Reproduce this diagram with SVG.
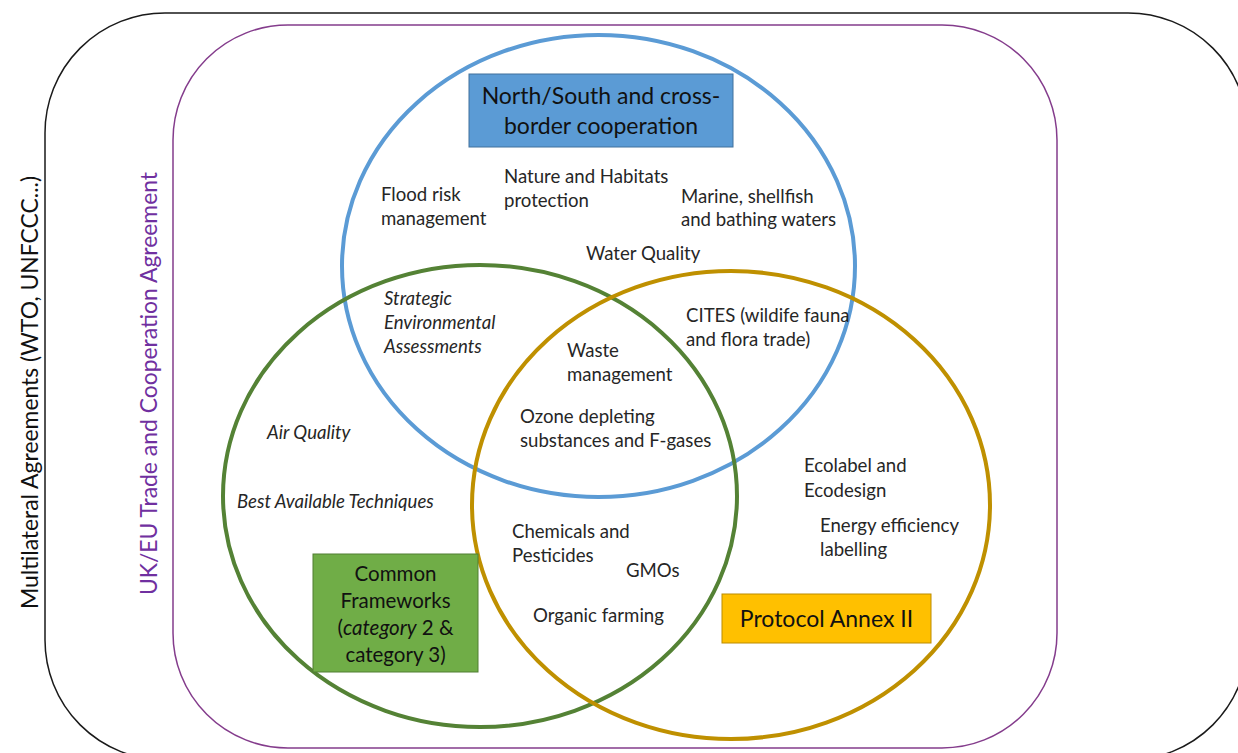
<svg xmlns="http://www.w3.org/2000/svg" width="1238" height="753" viewBox="0 0 1238 753">
<style>
.t{font-family:Lato,"Open Sans","Liberation Sans",sans-serif;font-size:18.6px;fill:#262626}
.i{font-style:italic}
.box{font-family:Lato,"Open Sans","Liberation Sans",sans-serif;font-size:23px;fill:#111}
.cf{font-size:20.5px}
.side{font-family:Lato,"Open Sans","Liberation Sans",sans-serif;font-size:22.9px}
.ring{fill:none;stroke-width:4}
</style>
<rect width="1238" height="753" fill="#fff"/>
<g id="multilateral">
<rect x="45" y="13" width="1203" height="747" rx="120" ry="120" fill="none" stroke="#1a1a1a" stroke-width="1.5"/>
<text class="side" transform="translate(38,392.5) rotate(-90)" text-anchor="middle" fill="#111">Multilateral Agreements (WTO, UNFCCC...)</text>
</g>
<g id="tca">
<rect x="173" y="25" width="884" height="723" rx="115" ry="115" fill="none" stroke="#843C8C" stroke-width="1.5"/>
<text class="side" transform="translate(157,383.5) rotate(-90)" text-anchor="middle" fill="#7030A0">UK/EU Trade and Cooperation Agreement</text>
</g>
<g id="circles">
<ellipse id="blue" class="ring" cx="598.5" cy="266" rx="256.5" ry="231" stroke="#5B9BD5"/>
<ellipse id="green" class="ring" cx="480" cy="496" rx="257" ry="231" stroke="#548235"/>
<ellipse id="gold" class="ring" cx="731" cy="505" rx="259" ry="234" stroke="#BF9000"/>
</g>
<g id="ns-box">
<rect x="469" y="74" width="264" height="73" fill="#5B9BD5" stroke="#41719C" stroke-width="1"/>
<text class="box" x="601" y="104" text-anchor="middle">North/South and cross-</text>
<text class="box" x="601" y="134" text-anchor="middle">border cooperation</text>
</g>
<g id="cf-box">
<rect x="313" y="554" width="165" height="118" fill="#70AD47" stroke="#507E32" stroke-width="1"/>
<text class="box cf" x="395.5" y="581" text-anchor="middle">Common</text>
<text class="box cf" x="395.5" y="608" text-anchor="middle">Frameworks</text>
<text class="box cf" x="395.5" y="635" text-anchor="middle">(<tspan font-style="italic">category</tspan> 2 &amp;</text>
<text class="box cf" x="395.5" y="662" text-anchor="middle">category 3)</text>
</g>
<g id="pa-box">
<rect x="722" y="594" width="209" height="49" fill="#FFC000" stroke="#BC8C00" stroke-width="1"/>
<text class="box" x="826.5" y="627" text-anchor="middle">Protocol Annex II</text>
</g>
<g id="labels">
<text class="t" x="381" y="201">Flood risk</text>
<text class="t" x="381" y="225">management</text>
<text class="t" x="504" y="183">Nature and Habitats</text>
<text class="t" x="504" y="207">protection</text>
<text class="t" x="681" y="203">Marine, shellfish</text>
<text class="t" x="681" y="226">and bathing waters</text>
<text class="t" x="586" y="260">Water Quality</text>
<text class="t i" x="384" y="305">Strategic</text>
<text class="t i" x="384" y="329">Environmental</text>
<text class="t i" x="384" y="353">Assessments</text>
<text class="t" x="686" y="322">CITES (wildife fauna</text>
<text class="t" x="686" y="346">and flora trade)</text>
<text class="t" x="567" y="357">Waste</text>
<text class="t" x="567" y="381">management</text>
<text class="t" x="520" y="423">Ozone depleting</text>
<text class="t" x="520" y="447">substances and F-gases</text>
<text class="t i" x="267" y="439">Air Quality</text>
<text class="t i" x="237" y="508">Best Available Techniques</text>
<text class="t" x="512" y="538">Chemicals and</text>
<text class="t" x="512" y="562">Pesticides</text>
<text class="t" x="626" y="577">GMOs</text>
<text class="t" x="533" y="622">Organic farming</text>
<text class="t" x="804" y="472">Ecolabel and</text>
<text class="t" x="804" y="497">Ecodesign</text>
<text class="t" x="820" y="532">Energy efficiency</text>
<text class="t" x="820" y="556">labelling</text>
</g>
</svg>
